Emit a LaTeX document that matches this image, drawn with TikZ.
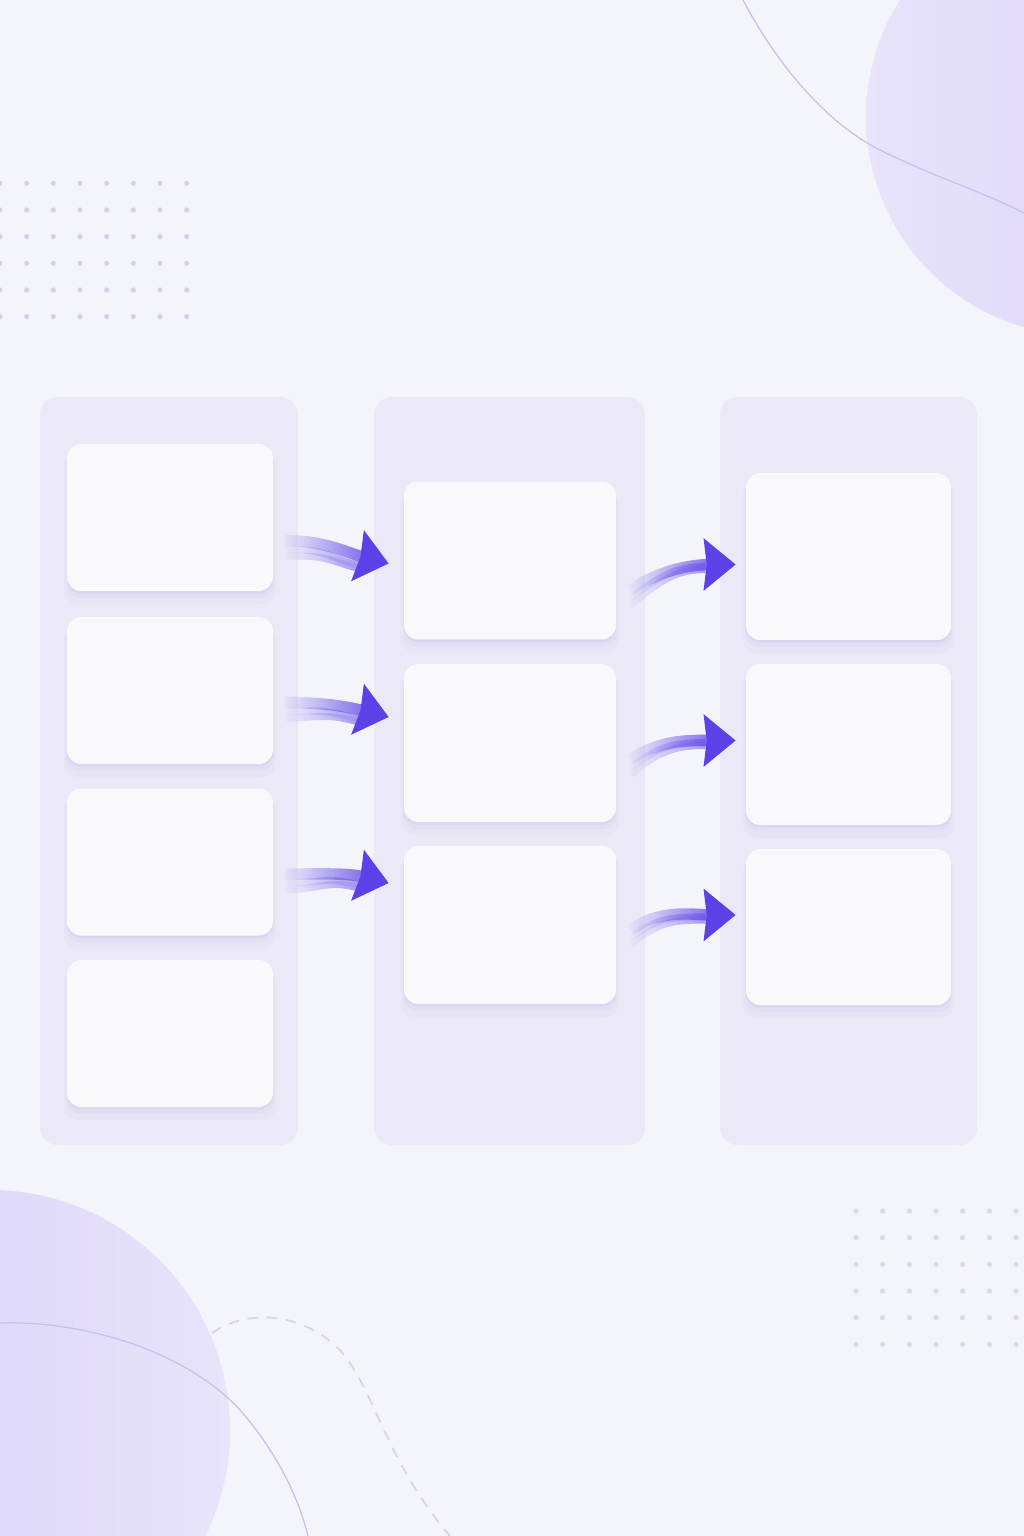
\documentclass[tikz,border=0pt]{standalone}
\usepackage{tikz}
\usetikzlibrary{calc,arrows.meta,shadows,fadings}

\definecolor{bgc}{RGB}{244,245,250}
\definecolor{panelc}{RGB}{235,233,247}
\definecolor{cardc}{RGB}{249,249,252}
\definecolor{shadowc}{RGB}{165,155,220}
\definecolor{arrowc}{RGB}{88,66,232}
\definecolor{blobd}{RGB}{214,205,248}
\definecolor{blobl}{RGB}{232,228,251}
\definecolor{dotc}{RGB}{210,207,236}
\definecolor{dotl}{RGB}{218,217,234}
\definecolor{linec}{RGB}{198,190,240}
\definecolor{dashc}{RGB}{214,212,230}

\tikzfading[name=tailfade, left color=transparent!100, middle color=transparent!25, right color=transparent!0]

\tikzset{
  card/.style={fill=cardc, rounded corners=8pt, inner sep=0pt,
    general shadow={fill=shadowc, opacity=0.05, shadow yshift=-6pt, shadow scale=1.03},
    general shadow={fill=shadowc, opacity=0.08, shadow yshift=-3.5pt, shadow scale=1.01},
    general shadow={fill=shadowc, opacity=0.12, shadow yshift=-1.5pt}},
  panel/.style={fill=panelc, rounded corners=10pt},
  flow/.style={draw=arrowc, line width=6.5pt, path fading=tailfade, shorten >=14pt},
  flowtip/.style={draw=arrowc, line width=6.5pt, -{Stealth[length=18pt, width=29pt, inset=1.5pt]}},
  streak/.style={draw=arrowc!55, line width=4pt, path fading=tailfade}
}

\begin{document}
\begin{tikzpicture}[x=0.02cm, y=-0.02cm]
% page and background
\useasboundingbox (0,0) rectangle (1024,1536);
\clip (0,0) rectangle (1024,1536);
\fill[bgc] (0,0) rectangle (1024,1536);

% blobs in the corners
\shade[left color=blobl, right color=blobd] (1085,117) circle (219);
\shade[left color=blobd, right color=blobl] (-10,1430) circle (240);
\draw[linec, line width=0.7pt] (743,0) .. controls (780,70) and (830,125) .. (880,150)
  .. controls (930,175) and (990,195) .. (1024,213);
\draw[linec, line width=0.7pt] (0,1323) .. controls (90,1320) and (190,1355) .. (240,1410)
  .. controls (275,1450) and (298,1495) .. (308,1536);
\draw[dashc, line width=1pt, dash pattern=on 6pt off 5pt] (212,1333)
  .. controls (245,1310) and (300,1310) .. (340,1350)
  .. controls (375,1390) and (385,1460) .. (450,1536);

% dot grids
\foreach \i in {0,...,7}
  \foreach \j in {0,...,5}
    \fill[dotc] (\i*26.67, 183.3+\j*26.67) circle (2.6);
\foreach \i in {0,...,6}
  \foreach \j in {0,...,5}
    \fill[dotl] (856+\i*26.67, 1211+\j*26.67) circle (2.6);

% the three columns
\fill[panel] (40,397) rectangle (298,1145);
\fill[panel] (374,397) rectangle (645,1145);
\fill[panel] (720,397) rectangle (977,1145);

% cards
\foreach \n/\y in {1/517.5, 2/690.5, 3/862, 4/1033.5}
  \node[card, minimum width=4.12cm, minimum height=2.94cm] (l\n) at (170,\y) {};
\foreach \n/\y in {1/560.5, 2/743, 3/925}
  \node[card, minimum width=4.24cm, minimum height=3.16cm] (m\n) at (510,\y) {};
\foreach \n/\y/\h in {1/556.5/3.34, 2/744.5/3.22, 3/927/3.12}
  \node[card, minimum width=4.1cm, minimum height=\h cm] (r\n) at (848.5,\y) {};

% arrows from the first column to the second
\foreach \s/\t/\sx/\sy/\tx/\ty in {l1/m1/12/23/-15/3, l2/m2/12/12/-15/-26, l3/m3/12/12/-15/-42}{
  \draw[streak] ($(\s.east)+(\sx,\sy+16)$) .. controls +(40,-2) and +(-30,-8) .. ($(\t.west)+(\tx-30,\ty+5)$);
  \draw[streak] ($(\s.east)+(\sx,\sy+9)$) .. controls +(40,-1) and +(-30,-8) .. ($(\t.west)+(\tx-30,\ty+2)$);
  \draw[flow] ($(\s.east)+(\sx,\sy)$) .. controls +(40,0) and +(-40,-10) .. ($(\t.west)+(\tx,\ty)$);
  \draw[flowtip] ($(\t.west)+(\tx-16,\ty-4)$) -- ($(\t.west)+(\tx,\ty)$);
}

% arrows from the second column to the third
\foreach \s/\t/\sx/\sy/\tx/\ty in {m1/r1/14/30/-10/8, m2/r2/14/17/-10/-4, m3/r3/14/5/-10/-12}{
  \draw[streak] ($(\s.east)+(\sx,\sy+15)$) .. controls +(28,-24) and +(-30,0) .. ($(\t.west)+(\tx-30,\ty+5)$);
  \draw[streak] ($(\s.east)+(\sx,\sy+8)$) .. controls +(28,-22) and +(-30,0) .. ($(\t.west)+(\tx-30,\ty+2)$);
  \draw[flow] ($(\s.east)+(\sx,\sy)$) .. controls +(30,-22) and +(-40,0) .. ($(\t.west)+(\tx,\ty)$);
  \draw[flowtip] ($(\t.west)+(\tx-16,\ty)$) -- ($(\t.west)+(\tx,\ty)$);
}
\end{tikzpicture}
\end{document}
